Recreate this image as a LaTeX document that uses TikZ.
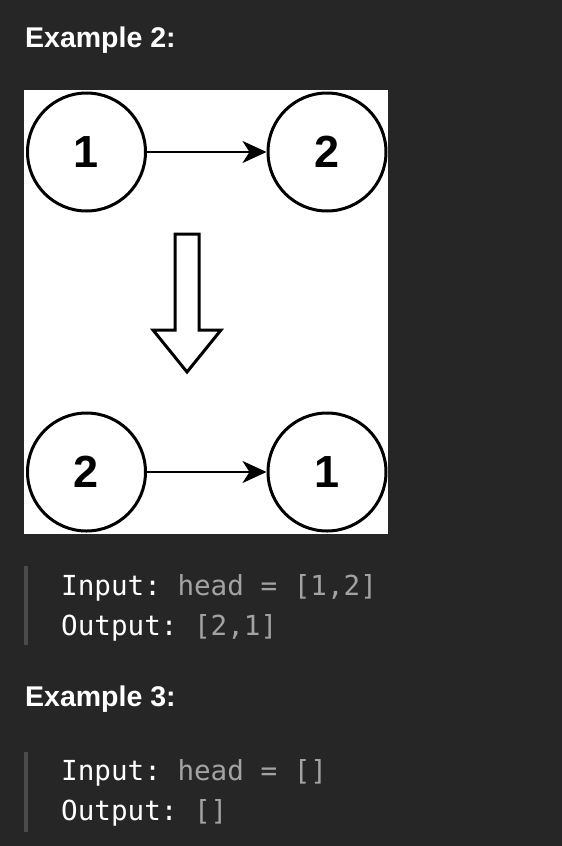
\documentclass[tikz,border=0pt]{standalone}
\usepackage{fontspec}
\setmainfont{Liberation Sans}
\newfontfamily\codefont{DejaVu Sans Mono}
\usetikzlibrary{arrows.meta}
\definecolor{bg}{HTML}{262626}
\definecolor{bar}{HTML}{4B4B4B}
\definecolor{code}{HTML}{A3A3A3}
\frenchspacing
\begin{document}
\begin{tikzpicture}[x=1pt,y=-1pt,>={Stealth[length=24pt,width=22pt,inset=7pt]},
  num/.style={circle,draw,line width=3pt,minimum size=118pt,inner sep=0pt,font=\bfseries\fontsize{45}{45}\selectfont},
  head/.style={anchor=base west,inner sep=0pt,text=white,font=\bfseries\fontsize{28.5}{28.5}\selectfont},
  code/.style={anchor=base west,inner sep=0pt,text=white,font=\codefont\fontsize{27.6}{27.6}\selectfont}]
\fill[bg](0,0)rectangle(562,846);
\useasboundingbox(0,0)rectangle(562,846);
\node[head](ex2) at (25,47){Example 2:};
% white panel with the two lists
\fill[white](24,90)rectangle(388,534);
\begin{scope}
\clip(24,90)rectangle(388,534);
\node[num](a1) at (86.5,152){1};
\node[num](a2) at (327,152){2};
\node[num](b2) at (86.5,472){2};
\node[num](b1) at (327,472){1};
\draw[->,line width=2.5pt](a1)--(a2);
\draw[->,line width=2.5pt](b2)--(b1);
\draw[line width=3pt,fill=white](175,234)--(199,234)--(199,330)--(221,330)--(187,372)--(153,330)--(175,330)--cycle;
\end{scope}
% code blocks
\fill[bar](24,566)rectangle(28,645);
\node[code](in2) at (61,595){Input: \textcolor{code}{head = [1,2]}};
\node[code](out2) at (61,635){Output: \textcolor{code}{[2,1]}};
\node[head](ex3) at (25,706.5){Example 3:};
\fill[bar](24,752)rectangle(28,832);
\node[code](in3) at (61,780){Input: \textcolor{code}{head = []}};
\node[code](out3) at (61,820){Output: \textcolor{code}{[]}};
\end{tikzpicture}
\end{document}
